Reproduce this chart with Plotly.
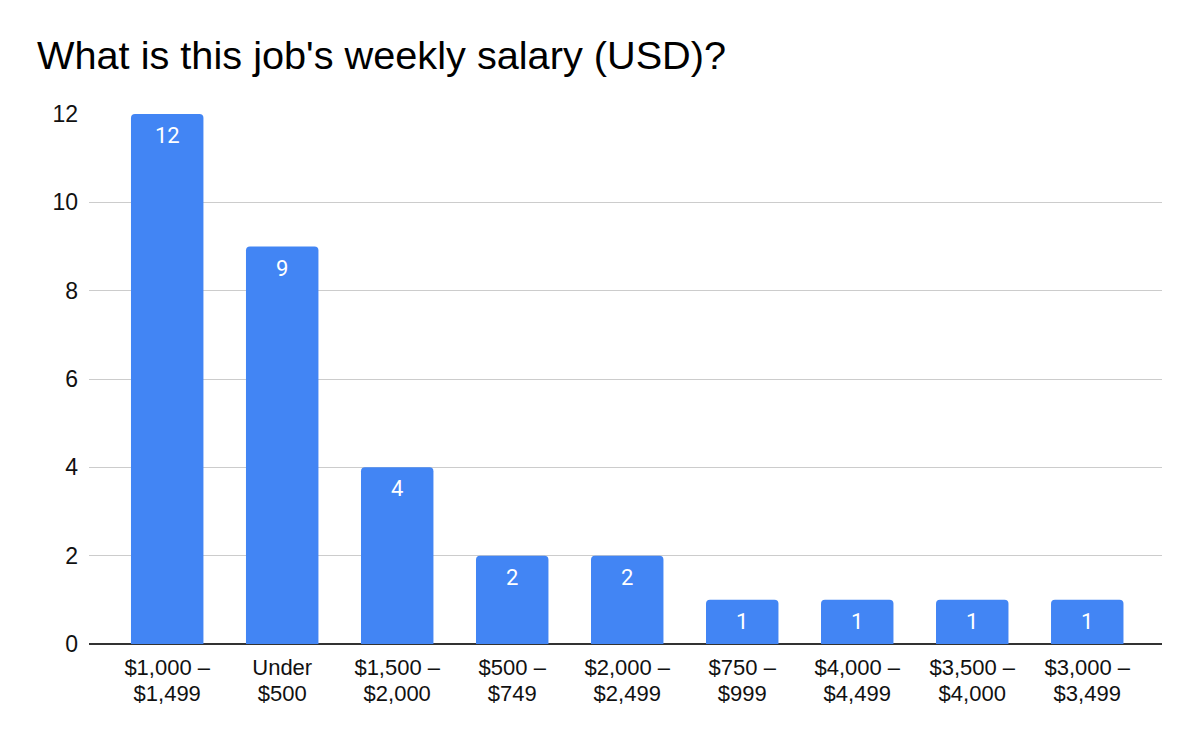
import plotly.graph_objects as go

label_line1 = ["$1,000 –", "Under", "$1,500 –", "$500 –", "$2,000 –", "$750 –", "$4,000 –", "$3,500 –", "$3,000 –"]
label_line2 = ["$1,499", "$500", "$2,000", "$749", "$2,499", "$999", "$4,499", "$4,000", "$3,499"]
categories = [a + " " + b for a, b in zip(label_line1, label_line2)]
counts = [12, 9, 4, 2, 2, 1, 1, 1, 1]
y_ticks = [0, 2, 4, 6, 8, 10, 12]
title_text = "What is this job's weekly salary (USD)?"

BLUE = "#4285F4"
FONT = "Liberation Sans, Arial, Helvetica, sans-serif"
TXT = "#111111"
XRANGE = [-0.68, 8.65]

fig = go.Figure()
fig.add_trace(go.Bar(
    x=categories, y=counts, marker=dict(color=BLUE, line=dict(width=0)),
    width=0.63, hoverinfo="skip",
))
# empty trace so the second-line label axis is rendered
fig.add_trace(go.Scatter(x=[], y=[], xaxis="x2", yaxis="y", mode="markers",
                         showlegend=False, hoverinfo="skip"))

for c, v in zip(categories, counts):
    fig.add_annotation(
        x=c, y=v, xref="x", yref="y", text=str(v), showarrow=False,
        yanchor="top", yshift=-7,
        font=dict(family="Roboto, Arial, sans-serif", size=22, color="white"),
    )

fig.update_layout(
    width=1200, height=742,
    margin=dict(l=89, r=38, t=114, b=98),
    paper_bgcolor="white", plot_bgcolor="white",
    barcornerradius=4,
    showlegend=False,
    title=dict(text=title_text, xref="container", yref="container",
               x=37 / 1200, xanchor="left", y=1 - 55 / 742, yanchor="middle",
               font=dict(family=FONT, size=39.7, color="#000000")),
    font=dict(family=FONT, color=TXT),
    xaxis=dict(
        type="category", range=XRANGE, showgrid=False, showline=False,
        tickmode="array", tickvals=categories, ticktext=label_line1,
        ticks="", tickfont=dict(size=22, color=TXT), ticklabelstandoff=8,
    ),
    xaxis2=dict(
        type="linear", range=XRANGE, overlaying="x", anchor="y", side="bottom",
        showgrid=False, showline=False, zeroline=False,
        tickmode="array", tickvals=list(range(len(label_line2))), ticktext=label_line2,
        ticks="", tickfont=dict(size=22, color=TXT), ticklabelstandoff=34,
    ),
    yaxis=dict(
        range=[0, 12], tickvals=y_ticks, showgrid=True, gridcolor="#cccccc", gridwidth=1,
        zeroline=True, zerolinecolor="#333333", zerolinewidth=2,
        ticks="", tickfont=dict(size=23, color=TXT), ticklabelstandoff=10,
    ),
)

fig.write_html("out.html")
